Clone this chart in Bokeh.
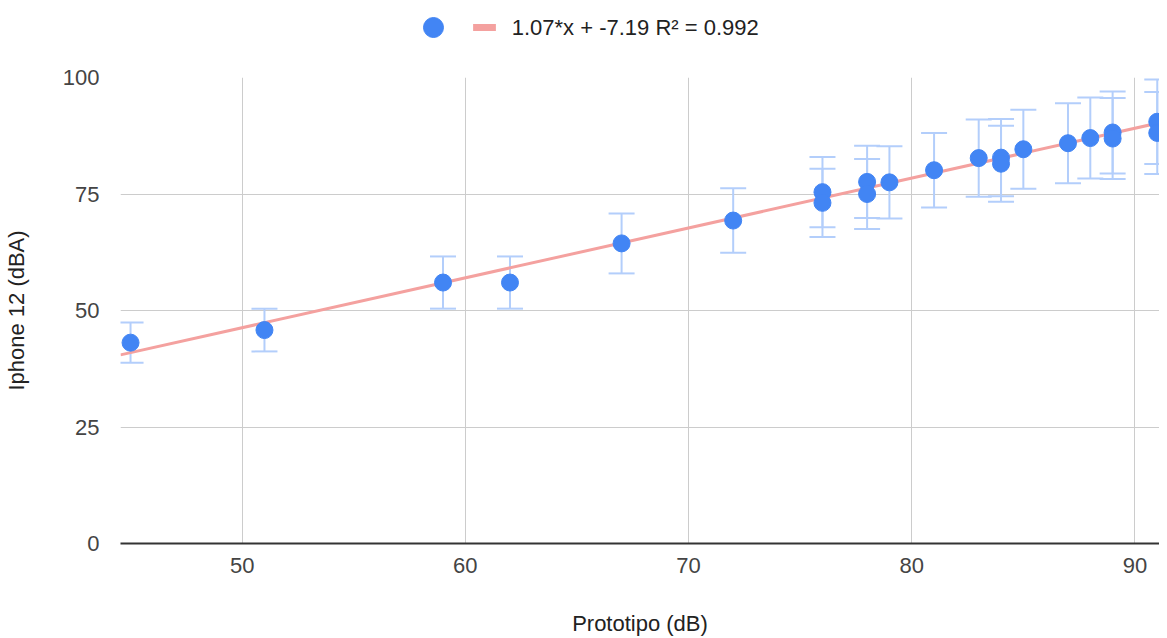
from bokeh.plotting import figure
from bokeh.layouts import column
from bokeh.models import ColumnDataSource, Whisker, TeeHead, Range1d, FixedTicker
from bokeh.core.properties import value
from bokeh.embed import file_html
from bokeh.resources import INLINE
import numpy as np

# Data
prototipo = [45, 51, 59, 62, 67, 72, 76, 76, 78, 78, 79, 81, 83, 84, 84, 85, 87, 88, 89, 89, 91, 91]
iphone = [43.1, 45.8, 56.0, 56.0, 64.4, 69.3, 75.4, 73.1, 77.6, 75.0, 77.5, 80.1, 82.7, 82.8, 81.5, 84.6, 85.9, 87.0, 88.2, 86.9, 90.5, 88.1]
error_pct = 0.10
slope = 1.07
intercept = -7.19
trend_label = "1.07*x + -7.19 R\u00b2 = 0.992"
x_ticks = [50, 60, 70, 80, 90]
y_ticks = [0, 25, 50, 75, 100]

FONT = "Liberation Sans"
FS = "22px"
BLUE = "#4285f4"
ERR = "#b3cefb"
TREND = "#f4a19f"
W = 1159
LEFT = 110

x0, x1 = 44.55, 91.1

# ---- legend strip (custom, above the plot); x in figure pixels ----
leg = figure(width=W, height=58, output_backend="svg", toolbar_location=None,
             x_range=Range1d(LEFT, W), y_range=Range1d(0, 58),
             min_border_left=LEFT, min_border_right=0,
             min_border_top=0, min_border_bottom=0)
leg.axis.visible = False
leg.grid.visible = False
leg.outline_line_color = None
leg.scatter([426], [31], size=20, fill_color=BLUE, line_color=BLUE)
leg.segment([466], [31], [489], [31], line_color=TREND, line_width=7)
leg.text([505], [31], text=[trend_label], text_font=value(FONT), text_font_size=FS,
         text_baseline="middle", text_align="left", text_color="#222222")

# ---- main plot ----
p = figure(width=W, height=580, output_backend="svg", toolbar_location=None,
           x_range=Range1d(x0, x1), y_range=Range1d(0, 100),
           min_border_left=LEFT, min_border_right=0, min_border_bottom=95, min_border_top=19)
p.outline_line_color = None

src = ColumnDataSource(dict(x=prototipo, y=iphone,
                            lo=[v * (1 - error_pct) for v in iphone],
                            hi=[v * (1 + error_pct) for v in iphone]))

w = Whisker(source=src, base="x", upper="hi", lower="lo", dimension="height",
            line_color=ERR, line_width=2,
            upper_head=TeeHead(size=26, line_color=ERR, line_width=2),
            lower_head=TeeHead(size=26, line_color=ERR, line_width=2))
p.add_layout(w)

tx = np.array([x0, x1])
p.line(tx, slope * tx + intercept, line_color=TREND, line_width=3)

p.scatter("x", "y", source=src, size=17, fill_color=BLUE, line_color=BLUE)

p.xaxis.ticker = FixedTicker(ticks=x_ticks)
p.yaxis.ticker = FixedTicker(ticks=y_ticks)
p.xgrid.ticker = FixedTicker(ticks=x_ticks)
p.ygrid.ticker = FixedTicker(ticks=y_ticks)
p.grid.grid_line_color = "#cccccc"
p.grid.grid_line_width = 1

for ax in (p.xaxis[0], p.yaxis[0]):
    ax.major_tick_line_color = None
    ax.minor_tick_line_color = None
    ax.major_label_text_font = FONT
    ax.major_label_text_font_size = FS
    ax.major_label_text_color = "#444444"
    ax.axis_label_text_font = FONT
    ax.axis_label_text_font_size = FS
    ax.axis_label_text_font_style = "normal"
    ax.axis_label_text_color = "#222222"

p.yaxis.axis_line_color = None
p.xaxis.axis_line_color = "#333333"
p.xaxis.axis_line_width = 2
p.xaxis.axis_label = "Prototipo (dB)"
p.yaxis.axis_label = "Iphone 12 (dBA)"
p.xaxis.major_label_standoff = 8
p.xaxis.axis_label_standoff = 35
p.yaxis.major_label_standoff = 15
p.yaxis.axis_label_standoff = 31

layout = column(leg, p, spacing=0)
open("out.html", "w").write(file_html(layout, INLINE))
